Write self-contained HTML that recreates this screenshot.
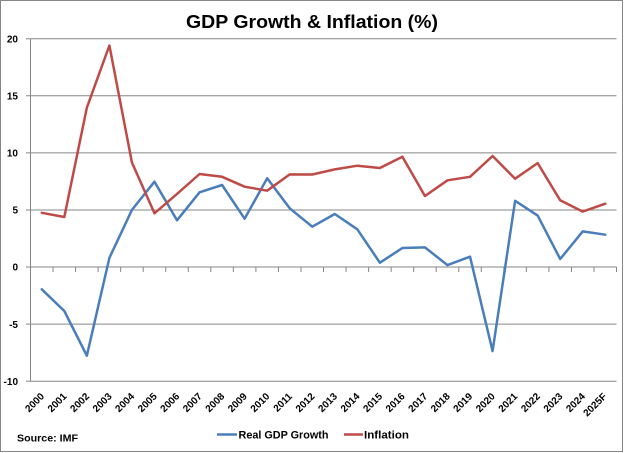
<!DOCTYPE html>
<html>
<head>
<meta charset="utf-8">
<style>
html,body{margin:0;padding:0;background:#fff;}
svg{display:block;}
text{font-family:"Liberation Sans",Arial,sans-serif;fill:#000;}
</style>
</head>
<body>
<svg width="624" height="453" viewBox="0 0 624 453" xmlns="http://www.w3.org/2000/svg">
<rect x="0" y="0" width="624" height="453" fill="#fff"/>
<rect x="0.5" y="0.5" width="622" height="451" fill="none" stroke="#868686" stroke-width="1"/>

<!-- title -->
<text x="186" y="28" font-size="18" font-weight="bold" textLength="252" lengthAdjust="spacingAndGlyphs">GDP Growth &amp; Inflation (%)</text>

<!-- gridlines -->
<g stroke="#868686" stroke-width="1" fill="none">
<line x1="26" y1="38.7" x2="616.5" y2="38.7"/>
<line x1="26" y1="95.8" x2="616.5" y2="95.8"/>
<line x1="26" y1="152.9" x2="616.5" y2="152.9"/>
<line x1="26" y1="210" x2="616.5" y2="210"/>
<line x1="26" y1="267" x2="616.5" y2="267"/>
<line x1="26" y1="324.1" x2="616.5" y2="324.1"/>
<line x1="26" y1="381.2" x2="616.5" y2="381.2"/>
<!-- y axis -->
<line x1="30.5" y1="38.7" x2="30.5" y2="381.2"/>
<!-- x ticks -->
<path d="M30.5 267v5M53.04 267v5M75.58 267v5M98.12 267v5M120.66 267v5M143.2 267v5M165.74 267v5M188.28 267v5M210.82 267v5M233.36 267v5M255.9 267v5M278.44 267v5M300.98 267v5M323.52 267v5M346.06 267v5M368.6 267v5M391.14 267v5M413.68 267v5M436.22 267v5M458.76 267v5M481.3 267v5M503.84 267v5M526.38 267v5M548.92 267v5M571.46 267v5M594 267v5M616.5 267v5"/>
</g>

<!-- y labels -->
<g font-size="10" font-weight="bold" text-anchor="end">
<text x="18" y="42.4">20</text>
<text x="18" y="99.5">15</text>
<text x="18" y="156.6">10</text>
<text x="18" y="213.7">5</text>
<text x="18" y="270.7">0</text>
<text x="18" y="327.8">-5</text>
<text x="18" y="384.9">-10</text>
</g>

<!-- x labels -->
<g font-size="10" font-weight="bold" text-anchor="end">
<text transform="translate(44.8,397) rotate(-45)">2000</text>
<text transform="translate(67.3,397) rotate(-45)">2001</text>
<text transform="translate(89.9,397) rotate(-45)">2002</text>
<text transform="translate(112.4,397) rotate(-45)">2003</text>
<text transform="translate(134.9,397) rotate(-45)">2004</text>
<text transform="translate(157.5,397) rotate(-45)">2005</text>
<text transform="translate(180,397) rotate(-45)">2006</text>
<text transform="translate(202.6,397) rotate(-45)">2007</text>
<text transform="translate(225.1,397) rotate(-45)">2008</text>
<text transform="translate(247.6,397) rotate(-45)">2009</text>
<text transform="translate(270.2,397) rotate(-45)">2010</text>
<text transform="translate(292.7,397) rotate(-45)">2011</text>
<text transform="translate(315.3,397) rotate(-45)">2012</text>
<text transform="translate(337.8,397) rotate(-45)">2013</text>
<text transform="translate(360.3,397) rotate(-45)">2014</text>
<text transform="translate(382.9,397) rotate(-45)">2015</text>
<text transform="translate(405.4,397) rotate(-45)">2016</text>
<text transform="translate(428,397) rotate(-45)">2017</text>
<text transform="translate(450.5,397) rotate(-45)">2018</text>
<text transform="translate(473,397) rotate(-45)">2019</text>
<text transform="translate(495.6,397) rotate(-45)">2020</text>
<text transform="translate(518.1,397) rotate(-45)">2021</text>
<text transform="translate(540.7,397) rotate(-45)">2022</text>
<text transform="translate(563.2,397) rotate(-45)">2023</text>
<text transform="translate(585.7,397) rotate(-45)">2024</text>
<text transform="translate(607.3,397) rotate(-45)">2025F</text>
</g>

<!-- series -->
<polyline fill="none" stroke="#4a7ebb" stroke-width="2.5" stroke-linejoin="round" stroke-linecap="round"
points="41.77,289.3 64.31,311.0 86.85,355.7 109.39,257.9 131.93,209.9 154.47,181.7 177.01,220.3 199.55,192.3 222.09,185.0 244.63,218.7 267.17,178.3 289.71,208.3 312.25,226.7 334.79,214.0 357.33,229.3 379.87,262.7 402.41,248.0 424.95,247.4 447.49,265.1 470.03,256.7 492.57,351.1 515.11,200.8 537.65,215.6 560.19,259.0 582.73,231.4 605.27,234.7"/>
<polyline fill="none" stroke="#be4b48" stroke-width="2.5" stroke-linejoin="round" stroke-linecap="round"
points="41.77,212.8 64.31,217.0 86.85,107.7 109.39,45.5 131.93,162.5 154.47,213.3 177.01,193.9 199.55,174.0 222.09,176.8 244.63,186.7 267.17,190.7 289.71,174.4 312.25,174.5 334.79,169.4 357.33,165.7 379.87,168.0 402.41,156.7 424.95,196.0 447.49,180.3 470.03,176.8 492.57,156.0 515.11,178.7 537.65,163.1 560.19,200.3 582.73,211.6 605.27,203.7"/>

<!-- source -->
<text x="17" y="441.7" font-size="10.5" font-weight="bold" textLength="61" lengthAdjust="spacingAndGlyphs">Source: IMF</text>

<!-- legend -->
<line x1="217" y1="434.5" x2="237" y2="434.5" stroke="#4a7ebb" stroke-width="2.5"/>
<text x="238.5" y="438.7" font-size="11" font-weight="bold" textLength="90" lengthAdjust="spacingAndGlyphs">Real GDP Growth</text>
<line x1="344" y1="434.5" x2="363" y2="434.5" stroke="#be4b48" stroke-width="2.5"/>
<text x="364" y="438.7" font-size="11" font-weight="bold" textLength="45" lengthAdjust="spacingAndGlyphs">Inflation</text>
</svg>
</body>
</html>
